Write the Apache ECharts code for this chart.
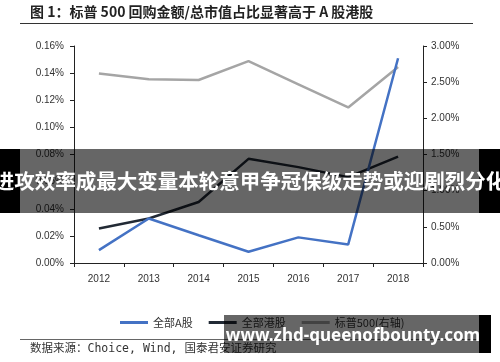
<!DOCTYPE html>
<html><head><meta charset="utf-8">
<script src="https://cdn.jsdelivr.net/npm/echarts@6/dist/echarts.min.js"></script>
<style>html,body{margin:0;padding:0;background:#fff}#c{width:500px;height:362px}</style>
</head><body><div id="c"></div>
<script>
var categories = ['2012','2013','2014','2015','2016','2017','2018'];
var aShares = [0.0095, 0.0328, 0.0205, 0.0083, 0.0189, 0.0137, 0.151];
var hkShares = [0.0255, 0.0328, 0.045, 0.0768, 0.0707, 0.0633, 0.0785];
var sp500 = [2.62, 2.54, 2.53, 2.79, 2.47, 2.15, 2.71];
var seriesNames = ['全部A股', '全部港股', '标普500(右轴)'];
var titleText = '图 1：标普 500 回购金额/总市值占比显著高于 A 股港股';
var sourceText = '数据来源：Choice, Wind, 国泰君安证券研究';
var banner1 = '进攻效率成最大变量本轮意甲争冠保级走势或迎剧烈分化';
var banner2 = 'www.zhd-queenofbounty.com';

var chart = echarts.init(document.getElementById('c'));
var axisLab = {color:'#333', fontSize:10, fontFamily:'Liberation Sans'};
var axLine = {show:true, lineStyle:{color:'#222', width:1}};
chart.setOption({
  animation:false,
  grid:{left:74, right:77, top:46, bottom:99},
  legend:{
    left:115, top:312, itemWidth:28, itemHeight:3, itemGap:16, icon:'rect',
    textStyle:{color:'#333', fontSize:11, fontFamily:'Noto Sans CJK SC'},
    data:seriesNames
  },
  xAxis:{type:'category', data:categories, boundaryGap:true,
    axisLine:axLine, axisTick:{show:true, length:4, lineStyle:{color:'#222'}},
    axisLabel:Object.assign({margin:11}, axisLab)},
  yAxis:[
    {type:'value', min:0, max:0.16, interval:0.02, splitLine:{show:false},
     axisLine:axLine, axisTick:{show:true, length:4, lineStyle:{color:'#222'}},
     axisLabel:Object.assign({margin:10, formatter:function(v){return v.toFixed(2)+'%';}}, axisLab)},
    {type:'value', min:0, max:3, interval:0.5, splitLine:{show:false}, position:'right',
     axisLine:axLine, axisTick:{show:true, length:4, lineStyle:{color:'#222'}},
     axisLabel:Object.assign({margin:8, formatter:function(v){return v.toFixed(2)+'%';}}, axisLab)}
  ],
  series:[
    {name:seriesNames[0], type:'line', data:aShares, yAxisIndex:0, symbol:'none', lineStyle:{color:'#4472C4', width:2.5}, itemStyle:{color:'#4472C4'}, z:3},
    {name:seriesNames[1], type:'line', data:hkShares, yAxisIndex:0, symbol:'none', lineStyle:{color:'#222A35', width:2.5}, itemStyle:{color:'#222A35'}, z:2},
    {name:seriesNames[2], type:'line', data:sp500, yAxisIndex:1, symbol:'none', lineStyle:{color:'#A5A5A5', width:2.5}, itemStyle:{color:'#A5A5A5'}, z:1}
  ],
  graphic:[
    {type:'text', left:30, top:5, style:{text:titleText, fill:'#222', fontSize:14, fontWeight:'bold', fontFamily:'Noto Sans CJK SC'}},
    {type:'line', shape:{x1:20, y1:23.5, x2:473, y2:23.5}, style:{stroke:'#333', lineWidth:1}},
    {type:'line', shape:{x1:20, y1:339.5, x2:480, y2:339.5}, style:{stroke:'#666', lineWidth:1}},
    {type:'text', left:30, top:343, style:{text:sourceText, fill:'#333', fontSize:11.5, fontFamily:'DejaVu Sans Mono, Noto Sans CJK SC'}},
    {type:'rect', shape:{x:0, y:149, width:20, height:64}, style:{fill:'#000'}, z:100},
    {type:'rect', shape:{x:20, y:149, width:459, height:64}, style:{fill:'rgba(0,0,0,0.6)'}, z:100},
    {type:'rect', shape:{x:479, y:149, width:21, height:64}, style:{fill:'#000'}, z:100},
    {type:'text', x:250, y:181, style:{text:banner1, fill:'#fff', fontSize:20.5, fontWeight:'bold', fontFamily:'Noto Sans CJK SC', align:'center', verticalAlign:'middle'}, z:101},
    {type:'rect', shape:{x:224, y:315, width:255, height:38}, style:{fill:'rgba(0,0,0,0.6)'}, z:100},
    {type:'rect', shape:{x:479, y:315, width:12, height:38}, style:{fill:'#000'}, z:100},
    {type:'text', x:353, y:336, style:{text:banner2, fill:'#fff', fontSize:17, fontWeight:'bold', fontFamily:'Noto Sans', align:'center', verticalAlign:'middle'}, z:101}
  ]
});
</script></body></html>
